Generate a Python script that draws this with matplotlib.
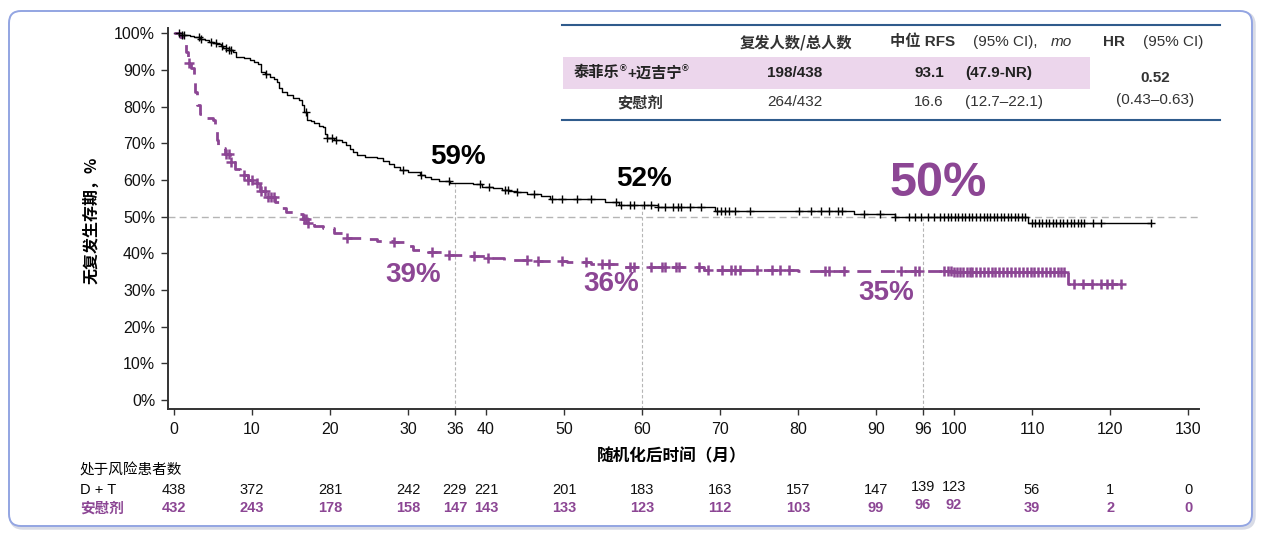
import numpy as np
import matplotlib
matplotlib.use('Agg')
import matplotlib.pyplot as plt
from matplotlib.patches import FancyBboxPatch, Rectangle
from matplotlib.lines import Line2D
from matplotlib.transforms import blended_transform_factory

plt.rcParams['font.family'] = ['Liberation Sans', 'Noto Sans CJK SC', 'DejaVu Sans']

# ---------------- data ----------------
dt_times = [0, 1.0, 2.0, 2.5, 3.3, 4.0, 4.5, 5.0, 5.5, 6.0, 6.3, 7.0, 7.6, 8.0, 9.0, 9.7,
            10.3, 10.8, 11.2, 11.6, 12.3, 12.8, 13.2, 13.5, 13.8, 14.5, 15.2, 16.0, 16.4,
            16.7, 17.1, 17.6, 18.0, 18.6, 19.1, 19.4, 19.6, 20.5, 21.5, 22.0, 22.5, 23.0,
            23.5, 24.5, 26.0, 26.8, 27.5, 28.2, 29.0, 30.0, 31.5, 32.2, 33.0, 34.0, 35.4,
            38.3, 39.5, 40.9, 42.0, 43.0, 44.0, 45.3, 47.0, 48.2, 55.3, 57.0, 62.0, 69.3,
            87.2, 92.4, 109.5]
dt_surv = [100, 99.6, 99.3, 99.0, 98.6, 98.2, 97.8, 97.5, 97.0, 96.5, 96.0, 95.5, 95.0,
           93.6, 93.2, 92.7, 92.2, 91.8, 89.5, 89.0, 88.0, 87.5, 86.8, 85.0, 84.0, 83.3,
           82.5, 81.8, 80.5, 78.5, 76.4, 76.0, 75.5, 74.8, 74.4, 72.5, 71.4, 71.0, 70.4,
           69.5, 68.5, 67.6, 66.8, 66.3, 66.0, 65.2, 64.5, 63.6, 62.7, 62.2, 61.4, 60.9,
           60.4, 59.8, 59.2, 58.9, 58.2, 57.8, 57.4, 57.0, 56.7, 56.3, 55.6, 54.8, 54.0,
           53.2, 52.6, 51.7, 50.8, 50.0, 48.2]
dt_end = 125.2
dt_censor = [0.7, 1.0, 1.3, 3.2, 3.5, 4.7, 5.4, 6.2, 6.6, 7.0, 7.3, 11.8, 16.9, 19.6, 20.2,
             20.8, 29.3, 31.7, 35.3, 39.2, 40.4, 42.4, 42.8, 44.0, 46.2, 48.5, 49.8, 51.7,
             53.4, 56.7, 57.3, 58.5, 59.0, 60.2, 61.2, 62.0, 63.0, 64.0, 64.6, 65.0, 66.2,
             67.5, 69.6, 70.1, 70.6, 71.1, 71.9, 73.8, 80.1, 81.6, 82.9, 84.0, 85.1, 85.6,
             88.4, 90.5, 92.4, 94.2, 95.0, 95.8, 96.6, 97.4, 98.2, 98.7, 99.2, 99.6, 100.1,
             100.5, 101.0, 101.4, 101.9, 102.3, 102.8, 103.3, 103.8, 104.2, 104.6, 105.1,
             105.5, 106.0, 106.4, 106.9, 107.3, 107.8, 108.2, 108.7, 109.1, 110.0, 110.4,
             110.9, 111.3, 111.8, 112.2, 112.7, 113.1, 113.6, 114.0, 114.5, 115.0, 115.4,
             115.9, 116.3, 116.7, 117.8, 118.9, 125.2]

pl_times = [0, 0.8, 1.2, 1.5, 1.8, 2.2, 2.5, 2.7, 2.9, 3.3, 3.7, 5.0, 5.3, 5.5, 5.7, 6.5,
            7.2, 7.8, 8.5, 9.5, 10.6, 11.0, 12.0, 13.0, 13.7, 14.3, 15.8, 16.5, 17.1, 18.0,
            19.1, 20.5, 22.2, 24.0, 26.0, 28.1, 29.5, 30.7, 32.5, 35.0, 37.0, 40.0, 42.3,
            46.0, 50.4, 53.5, 57.5, 68.0, 80.0, 100.0, 114.6]
pl_surv = [100, 99.0, 97.5, 95.0, 92.0, 90.5, 88.0, 84.0, 80.5, 78.0, 77.0, 76.4, 74.5,
           71.0, 68.8, 67.0, 65.0, 63.0, 61.4, 60.0, 59.2, 57.0, 55.5, 54.0, 52.5, 51.3,
           50.8, 49.5, 48.2, 47.5, 46.8, 45.5, 44.3, 43.8, 43.5, 43.0, 42.0, 41.0, 40.3,
           39.6, 39.2, 38.8, 38.2, 37.9, 37.6, 37.0, 36.3, 35.6, 35.3, 35.0, 31.7]
pl_end = 121.4
pl_censor = [1.9, 6.7, 7.0, 7.3, 9.0, 9.5, 10.0, 10.7, 11.2, 11.6, 12.0, 12.4, 12.8, 16.6,
             16.9, 17.2, 22.2, 28.2, 33.1, 35.3, 38.5, 40.2, 45.3, 46.6, 49.8, 52.8, 54.9,
             55.7, 58.5, 59.0, 61.2, 62.5, 63.0, 64.3, 64.8, 67.3, 68.5, 70.3, 71.4, 71.9,
             72.5, 74.8, 76.6, 77.7, 78.8, 83.4, 84.0, 85.9, 93.2, 95.0, 95.5, 98.7, 99.2,
             99.6, 100.0, 100.4, 100.8, 101.2, 101.6, 102.0, 102.3, 102.8, 103.3, 103.8,
             104.3, 104.8, 105.3, 105.8, 106.3, 106.8, 107.3, 107.8, 108.3, 108.8, 109.3,
             109.8, 110.3, 110.8, 111.3, 111.8, 112.3, 112.8, 113.3, 113.7, 114.1, 115.4,
             116.5, 117.7, 118.8, 119.6, 120.3, 121.4]

xticks = [0, 10, 20, 30, 36, 40, 50, 60, 70, 80, 90, 96, 100, 110, 120, 130]
yticks = [0, 10, 20, 30, 40, 50, 60, 70, 80, 90, 100]
landmarks = [36, 60, 96]

risk_times = [0, 10, 20, 30, 36, 40, 50, 60, 70, 80, 90, 96, 100, 110, 120, 130]
risk_dt = [438, 372, 281, 242, 229, 221, 201, 183, 163, 157, 147, 139, 123, 56, 1, 0]
risk_pl = [432, 243, 178, 158, 147, 143, 133, 123, 112, 103, 99, 96, 92, 39, 2, 0]

# landmark labels: (text, x month, y pct, color, size)
lm_labels = [('59%', 36.4, 66.3, 'k', 20), ('52%', 60.3, 60.2, 'k', 20),
             ('50%', 97.9, 59.2, 'purple', 35), ('39%', 30.6, 34.1, 'purple', 20),
             ('36%', 56.0, 31.6, 'purple', 20), ('35%', 91.3, 29.1, 'purple', 20)]

PURPLE = '#8c4694'
W, H = 1267, 537

def fx(x):
    return x / W

def fy(y):
    return 1 - y / H

def surv_at(times, surv, t):
    idx = np.searchsorted(np.asarray(times), np.asarray(t), side='right') - 1
    return np.asarray(surv)[idx]

fig = plt.figure(figsize=(W / 100, H / 100), dpi=100)
fig.patch.set_facecolor('white')

# outer rounded frame
shadow = FancyBboxPatch((11, 9), 1243, 515, boxstyle='round,pad=0,rounding_size=12',
                        transform=None, facecolor='none', edgecolor='#d8dbe6', lw=2.5, zorder=-3)
frame = FancyBboxPatch((9, 11), 1243, 515, boxstyle='round,pad=0,rounding_size=12',
                       transform=None, facecolor='white', edgecolor='#93a5e2', lw=1.4, zorder=-2)
fig.patches.extend([shadow, frame])

ax = fig.add_axes([fx(167.7), fy(409), fx(1199) - fx(167.7), fy(28) - fy(409)])
ax.set_facecolor('none')
ax.set_xlim(-0.81, 131.4)
ax.set_ylim(-2.45, 101.5)

for s in ['top', 'right']:
    ax.spines[s].set_visible(False)
for s in ['left', 'bottom']:
    ax.spines[s].set_linewidth(1.4)
    ax.spines[s].set_color('#333333')

ax.set_xticks(xticks)
ax.set_xticklabels([str(t) for t in xticks], fontsize=11.5)
ax.set_yticks(yticks)
ax.set_yticklabels([f'{t}%' for t in yticks], fontsize=11.5)
ax.tick_params(axis='both', direction='out', color='#333333', width=1, labelcolor='#111111')
ax.tick_params(axis='y', length=5, pad=4)
ax.tick_params(axis='x', length=4, pad=5)

# reference lines
ax.axhline(50, color='#b5b5b5', lw=1.0, ls=(0, (5, 3)), zorder=1)
for m in landmarks:
    top = float(surv_at(dt_times, dt_surv, m))
    ax.plot([m, m], [-2.45, top], color='#b5b5b5', lw=0.8, ls=(0, (3, 2)), zorder=1)

# curves
ax.step(list(dt_times) + [dt_end], list(dt_surv) + [dt_surv[-1]], where='post',
        color='black', lw=1.0, zorder=3)
ax.plot(dt_censor, surv_at(dt_times, dt_surv, dt_censor), ls='none', marker='+',
        ms=6, mew=1.0, color='black', zorder=4)

ax.step(list(pl_times) + [pl_end], list(pl_surv) + [pl_surv[-1]], where='post',
        color=PURPLE, lw=2.0, ls=(0, (5, 3.5)), zorder=3)
ax.plot(pl_censor, surv_at(pl_times, pl_surv, pl_censor), ls='none', marker='+',
        ms=7, mew=1.8, color=PURPLE, zorder=4)

for txt, xm, yp, col, sz in lm_labels:
    ax.text(xm, yp, txt, color=(PURPLE if col == 'purple' else 'black'), fontsize=sz,
            fontweight='bold', ha='center', va='center', zorder=5)

# axis labels
fig.text(fx(91), fy(220), '无复发生存期，%', rotation=90, ha='center', va='center',
         fontsize=11.5, fontweight='bold', family=['Noto Sans CJK SC', 'DejaVu Sans'])
fig.text(fx(672), fy(456), '随机化后时间（月）', ha='center', va='center', fontsize=12,
         fontweight='bold', family=['Noto Sans CJK SC', 'DejaVu Sans'])

# risk table
tr = blended_transform_factory(ax.transData, fig.transFigure)
fig.text(fx(80), fy(470), '处于风险患者数', ha='left', va='center', fontsize=10.5,
         family=['Noto Sans CJK SC', 'DejaVu Sans'])
fig.text(fx(80), fy(490), 'D + T', ha='left', va='center', fontsize=10.5)
fig.text(fx(80), fy(508), '安慰剂', ha='left', va='center', fontsize=10.5, fontweight='bold',
         color=PURPLE, family=['Noto Sans CJK SC', 'DejaVu Sans'])
for t, a, b in zip(risk_times, risk_dt, risk_pl):
    off = 3 if t in (96, 100) else 0
    ax.text(t, fy(490 - off), str(a), transform=tr, ha='center', va='center', fontsize=10.5,
            color='#111111')
    ax.text(t, fy(508 - off), str(b), transform=tr, ha='center', va='center', fontsize=10.5,
            color=PURPLE, fontweight='bold')

# summary table (top right)
TBL = '#2f5b8c'
TXT = '#333333'
fig.patches.append(Rectangle((fx(563), fy(89)), fx(1090) - fx(563), fy(57) - fy(89),
                             transform=fig.transFigure, facecolor='#ecd6ec', edgecolor='none',
                             zorder=1))
fig.lines.append(Line2D([fx(562), fx(1220)], [fy(25), fy(25)], transform=fig.transFigure,
                        color=TBL, lw=1.5))
fig.lines.append(Line2D([fx(562), fx(1220)], [fy(120), fy(120)], transform=fig.transFigure,
                        color=TBL, lw=1.5))
cjk = ['Liberation Sans', 'Noto Sans CJK SC', 'DejaVu Sans']
cjk_first = ['Noto Sans CJK SC', 'DejaVu Sans']
fig.text(fx(796), fy(42), '复发人数/总人数', ha='center', va='center', fontsize=11,
         fontweight='bold', color=TXT, family=cjk_first)
fig.text(fx(890), fy(42), '中位 RFS', ha='left', va='center', fontsize=11, fontweight='bold',
         color=TXT, family=cjk)
fig.text(fx(973), fy(42), '(95% CI), ', ha='left', va='center', fontsize=11, color=TXT)
fig.text(fx(1051), fy(42), 'mo', ha='left', va='center', fontsize=11, style='italic', color=TXT)
fig.text(fx(1103), fy(42), 'HR', ha='left', va='center', fontsize=11, fontweight='bold', color=TXT)
fig.text(fx(1143), fy(42), '(95% CI)', ha='left', va='center', fontsize=11, color=TXT)

# row label with superscript registered marks, placed piece by piece
renderer = fig.canvas.get_renderer()
pieces = [('泰菲乐', 11, 0), ('®', 6.5, 4), ('+迈吉宁', 11, 0), ('®', 6.5, 4)]
xcur = 574
for s, sz, rise in pieces:
    t = fig.text(fx(xcur), fy(73 - rise), s, ha='left', va='center', fontsize=sz,
                 fontweight='bold', color='#222222', family=cjk)
    bb = t.get_window_extent(renderer=renderer)
    xcur += bb.width + 0.3

fig.text(fx(795), fy(73), '198/438', ha='center', va='center', fontsize=11, fontweight='bold',
         color='#222222')
fig.text(fx(944), fy(73), '93.1', ha='right', va='center', fontsize=11, fontweight='bold',
         color='#222222')
fig.text(fx(965), fy(73), '(47.9-NR)', ha='left', va='center', fontsize=11, fontweight='bold',
         color='#222222')
fig.text(fx(1155), fy(78), '0.52', ha='center', va='center', fontsize=11, fontweight='bold',
         color=TXT)
fig.text(fx(1155), fy(100), '(0.43–0.63)', ha='center', va='center', fontsize=11, color=TXT)

fig.text(fx(640), fy(102), '安慰剂', ha='center', va='center', fontsize=11, fontweight='bold',
         color=TXT, family=cjk_first)
fig.text(fx(795), fy(102), '264/432', ha='center', va='center', fontsize=11, color=TXT)
fig.text(fx(944), fy(102), '16.6', ha='right', va='center', fontsize=11, color=TXT)
fig.text(fx(965), fy(102), '(12.7–22.1)', ha='left', va='center', fontsize=11, color=TXT)

fig.savefig('out.png', dpi=100)
